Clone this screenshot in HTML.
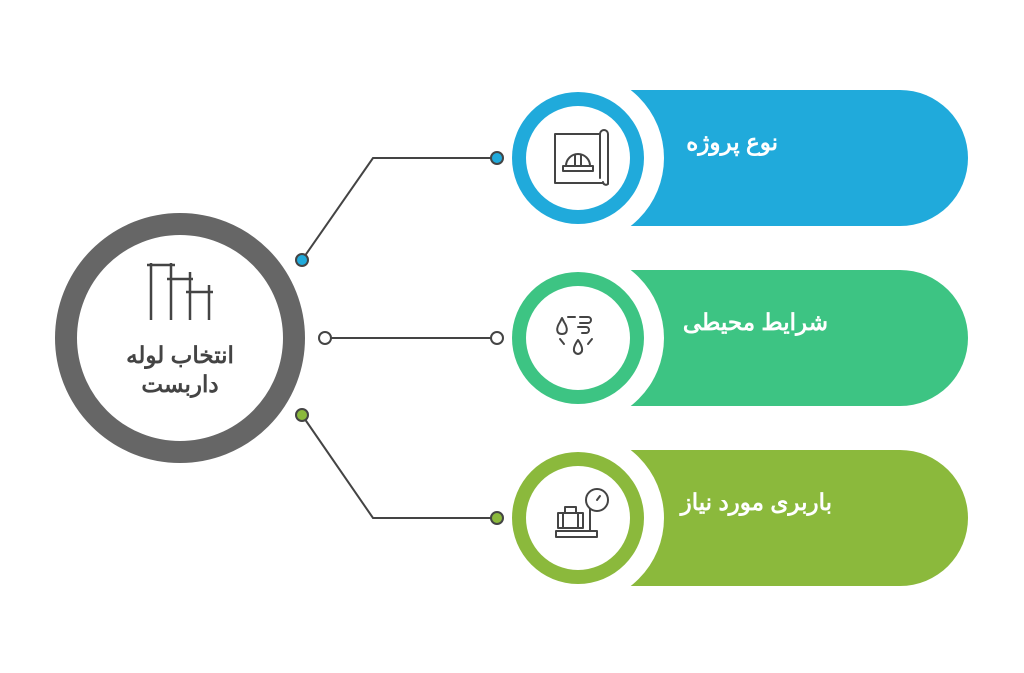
<!DOCTYPE html>
<html><head><meta charset="utf-8"><style>
html,body{margin:0;padding:0;background:#fff;}
.t{font-family:"Liberation Sans","Noto Sans CJK SC",sans-serif;font-weight:bold;}
</style></head><body>
<svg width="1024" height="668" viewBox="0 0 1024 668" xmlns="http://www.w3.org/2000/svg">
<rect width="1024" height="668" fill="#fff"/>
<!-- pills -->
<path d="M600 90 H900 A68 68 0 0 1 900 226 H600 Z" fill="#20AADB"/>
<path d="M600 270 H900 A68 68 0 0 1 900 406 H600 Z" fill="#3DC483"/>
<path d="M600 450 H900 A68 68 0 0 1 900 586 H600 Z" fill="#8BB93C"/>
<defs>
<clipPath id="c1"><rect x="400" y="90" width="400" height="136"/></clipPath>
<clipPath id="c2"><rect x="400" y="270" width="400" height="136"/></clipPath>
<clipPath id="c3"><rect x="400" y="450" width="400" height="136"/></clipPath>
</defs>
<circle cx="578" cy="158" r="86" fill="#fff" clip-path="url(#c1)"/>
<circle cx="578" cy="338" r="86" fill="#fff" clip-path="url(#c2)"/>
<circle cx="578" cy="518" r="86" fill="#fff" clip-path="url(#c3)"/>
<g>
<circle cx="578" cy="158" r="66" fill="#20AADB"/><circle cx="578" cy="158" r="52" fill="#fff"/>
<circle cx="578" cy="338" r="66" fill="#3DC483"/><circle cx="578" cy="338" r="52" fill="#fff"/>
<circle cx="578" cy="518" r="66" fill="#8BB93C"/><circle cx="578" cy="518" r="52" fill="#fff"/>
</g>
<!-- icons -->
<g fill="none" stroke="#444" stroke-width="2" stroke-linecap="round" stroke-linejoin="round">
<path d="M555 134 H600 M555 134 V183 H603"/><path d="M600 134 V178 M600 134 a4 4 0 0 1 8 0 V184 a3 3 0 0 1 -5 -2"/>
<path d="M563 166 H593 V171 H563 Z"/><path d="M566 166 a12 12 0 0 1 24 0"/><path d="M575 155 V166 M581 155 V166"/>
<path d="M560 322 c-4 6 -4 12 2 12 c6 0 6 -6 2 -12 l-2 -4 z"/><path d="M568 317 h7 M580 317 h8 a3 3 0 0 1 0 6 h-8 M578 327 h8 a3 3 0 0 1 0 6 h-4"/>
<path d="M578 340 c-5 7 -6 13 0 14 c6 -1 5 -7 0 -14 z"/><path d="M560 339 l4 5 M592 339 l-4 5"/>
<path d="M556 531 H597 V537 H556 Z M558 513 H583 V528 H558 Z M565 513 V507 H576 V513 M563 513 V528 M578 513 V528"/>
<circle cx="597" cy="500" r="11"/><path d="M597 500 l3 -4"/><path d="M590 509 V531"/>
</g>
<!-- connectors -->
<g fill="none" stroke="#444" stroke-width="2">
<path d="M302 260 L373 158 H497"/><path d="M325 338 H497"/><path d="M302 415 L373 518 H497"/>
</g>
<g stroke="#444" stroke-width="2">
<circle cx="302" cy="260" r="6" fill="#20AADB"/><circle cx="497" cy="158" r="6" fill="#20AADB"/>
<circle cx="325" cy="338" r="6" fill="#fff"/><circle cx="497" cy="338" r="6" fill="#fff"/>
<circle cx="302" cy="415" r="6" fill="#8BB93C"/><circle cx="497" cy="518" r="6" fill="#8BB93C"/>
</g>
<!-- main circle -->
<circle cx="180" cy="338" r="114" fill="#fff" stroke="#666" stroke-width="22"/>
<g stroke="#444" stroke-width="2.5">
<path d="M151 263 V320 M171 263 V320 M190 272 V320 M209 285 V320"/>
<path d="M147 265 H175 M167 279 H193 M186 292 H213"/>
</g>
<text class="t" x="180" y="363" font-size="23" fill="#444" text-anchor="middle" direction="rtl">انتخاب لوله</text>
<text class="t" x="180" y="392" font-size="23" fill="#444" text-anchor="middle" direction="rtl">داربست</text>
<text class="t" x="778" y="150" font-size="23" fill="#fff" text-anchor="start" direction="rtl">نوع پروژه</text>
<text class="t" x="828" y="330" font-size="23" fill="#fff" text-anchor="start" direction="rtl">شرایط محیطی</text>
<text class="t" x="832" y="510" font-size="23" fill="#fff" text-anchor="start" direction="rtl">باربری مورد نیاز</text>
</svg>
</body></html>
